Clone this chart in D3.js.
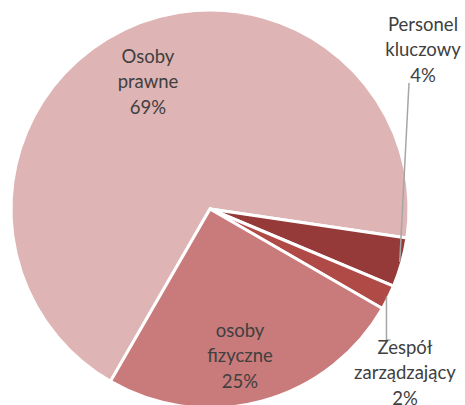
<!DOCTYPE html>
<html>
<head>
<meta charset="utf-8">
<script src="https://cdn.jsdelivr.net/npm/d3@7"></script>
<style>
  body { margin: 0; background: #fff; }
  text { font-family: Lato, "Open Sans", sans-serif; fill: #404040; }
</style>
</head>
<body>
<div id="graph"></div>
<script>
var categories = ["Osoby prawne", "Personel kluczowy", "Zespół zarządzający", "osoby fizyczne"];
var labelLines = [["Osoby", "prawne"], ["Personel", "kluczowy"], ["Zespół", "zarządzający"], ["osoby", "fizyczne"]];
var values = [69, 4, 2, 25];
var colors = ["#deb4b4", "#963939", "#b04a47", "#c97a7a"];

var width = 465, height = 405;
var cx = 210, cy = 209, R = 199;

// label centre (first line baseline) relative to the pie centre, in px
var labelPos = [[-62, -146], [213, -178], [195, 145], [30, 128]];
var leaderEnd = [[199, -127], null, [177, 131], null];

var svg = d3.select("#graph").append("svg")
  .attr("width", width).attr("height", height);

var g = svg.append("g").attr("transform", "translate(" + cx + "," + cy + ")");

var data = categories.map(function (c, i) { return { name: c, value: values[i], i: i }; });

var pie = d3.pie().sort(null).value(function (d) { return d.value; })
  .startAngle(210 * Math.PI / 180).endAngle(570 * Math.PI / 180);
var arcs = pie(data);

var arc = d3.arc().innerRadius(0).outerRadius(R);
var edge = d3.arc().innerRadius(R - 2).outerRadius(R - 2);

g.selectAll("path.slice").data(arcs).join("path")
  .attr("class", "slice")
  .attr("d", arc)
  .attr("fill", function (d) { return colors[d.data.i]; })
  .attr("stroke", "#fff")
  .attr("stroke-width", 3)
  .attr("stroke-linejoin", "miter");

// leader lines for the small slices
arcs.forEach(function (d) {
  var i = d.data.i;
  if (i === 1) {
    var p = edge.centroid(d);
    g.append("path")
      .attr("d", d3.line()([p, [labelPos[i][0] - 14, labelPos[i][1] + 52]]))
      .attr("stroke", "#a6a6a6").attr("stroke-width", 1.5).attr("fill", "none");
  }
  if (i === 2) {
    var q = edge.centroid(d);
    g.append("path")
      .attr("d", d3.line()([q, [q[0], 131], [q[0] + 4, 131]]))
      .attr("stroke", "#a6a6a6").attr("stroke-width", 1.5).attr("fill", "none");
  }
});

var lab = g.selectAll("text.lab").data(arcs).join("text")
  .attr("class", "lab")
  .attr("text-anchor", "middle")
  .style("font-size", "18.5px")
  .attr("transform", function (d) {
    var p = labelPos[d.data.i];
    return "translate(" + p[0] + "," + p[1] + ")";
  });

lab.each(function (d) {
  var t = d3.select(this);
  var lines = labelLines[d.data.i].concat([d.data.value + "%"]);
  lines.forEach(function (s, k) {
    t.append("tspan").attr("x", 0).attr("y", k * 24.5 + (k === 2 ? 1.5 : 0)).text(s);
  });
});
</script>
</body>
</html>
